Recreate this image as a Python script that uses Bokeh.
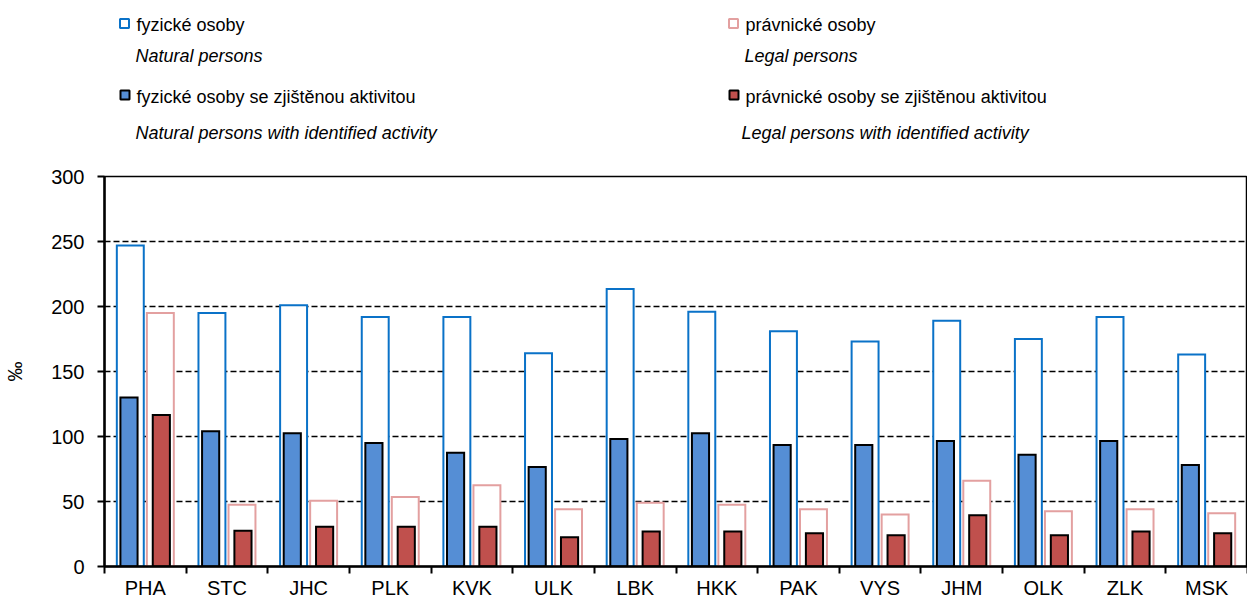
from bokeh.plotting import figure
from bokeh.models import Range1d, FixedTicker, ColumnDataSource
from bokeh.layouts import column
from bokeh.embed import file_html
from bokeh.resources import INLINE
from bokeh.core.properties import value

# ---- data ----
regions = ["PHA", "STC", "JHC", "PLK", "KVK", "ULK", "LBK", "HKK", "PAK", "VYS", "JHM", "OLK", "ZLK", "MSK"]
natural = [247, 195, 201, 192, 192, 164, 213.5, 196, 181, 173, 189, 175, 192, 163]
legal = [195, 47.5, 50.5, 53.5, 62.5, 44, 49, 47.5, 44, 40, 66, 42.5, 44, 41]
natural_active = [130, 104, 102.5, 95, 87.5, 76.5, 98, 102.5, 93.5, 93.5, 96.5, 86, 96.5, 78]
legal_active = [116.5, 27.5, 30.5, 30.5, 30.5, 22.5, 27, 27, 25.5, 24, 39.5, 24, 27, 25.5]
y_ticks = [0, 50, 100, 150, 200, 250, 300]
y_label = "‰"
legend_cz = ["fyzické osoby", "právnické osoby",
             "fyzické osoby se zjištěnou aktivitou", "právnické osoby se zjištěnou aktivitou"]
legend_en = ["Natural persons", "Legal persons",
             "Natural persons with identified activity", "Legal persons with identified activity"]

FONT = "Liberation Sans"
BLUE_LINE = "#0A72C8"
PINK_LINE = "#E3A0A0"
BLUE_FILL = "#558ED5"
RED_FILL = "#C0504D"

W = 1247
LEG_H = 150
MAIN_H = 452
LEFT = 104

# ---- legend figure (data units = page pixels) ----
lg = figure(width=W, height=LEG_H, x_range=Range1d(LEFT, W), y_range=Range1d(LEG_H, 0),
            toolbar_location=None, output_backend="svg",
            min_border_left=LEFT, min_border_right=0, min_border_top=0, min_border_bottom=0)
lg.axis.visible = False
lg.grid.visible = False
lg.outline_line_color = None

lg.rect(x=[124, 733], y=[23, 23], width=9, height=9, fill_color="white",
        line_color=[BLUE_LINE, PINK_LINE], line_width=2)
lg.rect(x=[124.5, 733.5], y=[94.5, 94.5], width=9, height=9,
        fill_color=[BLUE_FILL, RED_FILL], line_color="black", line_width=2)

lg.text(x=[136, 745, 136, 745], y=[24, 24, 96, 96], text=legend_cz,
        text_font=value(FONT), text_font_size="18px", text_color="black",
        text_baseline="middle", text_align="left")
lg.text(x=[135, 744, 135, 741], y=[55, 55, 132, 132], text=legend_en,
        text_font=value(FONT), text_font_size="18px", text_font_style="italic",
        text_color="black", text_baseline="middle", text_align="left")

# ---- main figure ----
n = len(regions)
p = figure(width=W, height=MAIN_H, x_range=Range1d(0, n), y_range=Range1d(0, 300),
           toolbar_location=None, output_backend="svg",
           min_border_left=LEFT, min_border_right=0, min_border_top=26, min_border_bottom=36)

centers = [i + 0.5 for i in range(n)]
src = ColumnDataSource(dict(
    xn=[c - 0.184 for c in centers], xl=[c + 0.184 for c in centers],
    xna=[c - 0.2 for c in centers], xla=[c + 0.196 for c in centers],
    natural=natural, legal=legal, natural_active=natural_active, legal_active=legal_active))

p.vbar(x="xn", top="natural", bottom=0, width=0.33, source=src, fill_color="white",
       line_color=BLUE_LINE, line_width=2, line_join="miter")
p.vbar(x="xl", top="legal", bottom=0, width=0.33, source=src, fill_color="white",
       line_color=PINK_LINE, line_width=2, line_join="miter")
p.vbar(x="xna", top="natural_active", bottom=0, width=0.21, source=src, fill_color=BLUE_FILL,
       line_color="black", line_width=2, line_join="miter")
p.vbar(x="xla", top="legal_active", bottom=0, width=0.21, source=src, fill_color=RED_FILL,
       line_color="black", line_width=2, line_join="miter")

# grid
p.xgrid.visible = False
p.ygrid.ticker = FixedTicker(ticks=y_ticks)
p.ygrid.grid_line_color = "black"
p.ygrid.grid_line_width = 1.5
p.ygrid.grid_line_dash = "6 3"

p.outline_line_color = "black"
p.outline_line_width = 1.5

# y axis
ya = p.yaxis[0]
ya.ticker = FixedTicker(ticks=y_ticks)
ya.axis_line_color = "black"
ya.axis_line_width = 2.5
ya.major_tick_line_color = "black"
ya.major_tick_line_width = 2
ya.major_tick_out = 7
ya.major_tick_in = 0
ya.minor_tick_line_color = None
ya.major_label_text_font = FONT
ya.major_label_text_font_size = "20px"
ya.major_label_text_color = "black"
ya.major_label_standoff = 13
ya.axis_label = y_label
ya.axis_label_text_font = FONT
ya.axis_label_text_font_size = "20px"
ya.axis_label_text_font_style = "normal"
ya.axis_label_text_color = "black"
ya.axis_label_standoff = 22

# x axis
xa = p.xaxis[0]
xa.ticker = FixedTicker(ticks=centers, minor_ticks=list(range(n + 1)))
xa.major_label_overrides = {c: r for c, r in zip(centers, regions)}
xa.axis_line_color = "black"
xa.axis_line_width = 2.5
xa.major_tick_line_alpha = 0
xa.major_tick_out = 6
xa.major_tick_in = 0
xa.minor_tick_line_color = "black"
xa.minor_tick_line_width = 2
xa.minor_tick_out = 7
xa.minor_tick_in = 0
xa.major_label_text_font = FONT
xa.major_label_text_font_size = "20px"
xa.major_label_text_color = "black"
xa.major_label_standoff = 3

layout = column(lg, p, spacing=0)
open("out.html", "w").write(file_html(layout, INLINE))
